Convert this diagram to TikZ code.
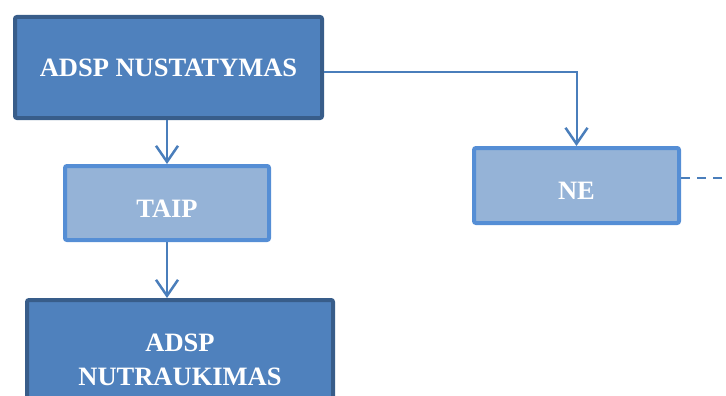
\documentclass[tikz,border=0pt]{standalone}
\usepackage{fontspec}
\setmainfont{Liberation Serif}
\usetikzlibrary{arrows.meta}
\definecolor{darkfill}{HTML}{4F81BD}
\definecolor{darkline}{HTML}{385D8A}
\definecolor{lightfill}{HTML}{95B3D7}
\definecolor{lightline}{HTML}{558ED5}
\definecolor{linkblue}{HTML}{4A7EBB}

\begin{document}
\begin{tikzpicture}[x=1pt, y=-1pt,
  darkbox/.style={draw=darkline, fill=darkfill, line width=4pt, rounded corners=2pt, text=white, font=\fontsize{26.5}{34}\selectfont\bfseries, align=center, inner sep=0pt},
  lightbox/.style={draw=lightline, fill=lightfill, line width=4pt, rounded corners=2pt, text=white, font=\fontsize{26.5}{34}\selectfont\bfseries, align=center, inner sep=0pt, text height=28pt, text depth=0pt},
  link/.style={draw=linkblue, line width=2pt, -{Straight Barb[length=16pt, width=22pt, line width=2.5pt]}}]
\useasboundingbox (0,0) rectangle (726,396);
\node[darkbox, minimum width=307pt, minimum height=101pt] (nustat) at (168.5,67.5) {ADSP NUSTATYMAS};
\node[lightbox, minimum width=204pt, minimum height=74pt] (taip) at (167,203) {TAIP};
\node[lightbox, minimum width=205pt, minimum height=75pt] (ne) at (576.5,185.5) {NE};
\node[darkbox, minimum width=306pt, minimum height=120pt] (nutrauk) at (180,360) {ADSP\\NUTRAUKIMAS};
\coordinate (out) at (730,178);
\draw[link] (taip.north |- nustat.south) -- (taip.north);
\draw[link] (taip.south) -- (taip.south |- nutrauk.north);
\draw[link] ([yshift=-4.5pt]nustat.east) -| (ne.north);
\draw[draw=linkblue, line width=2pt, dash pattern=on 9pt off 7pt] (ne.east |- out) -- (out);
\end{tikzpicture}
\end{document}
